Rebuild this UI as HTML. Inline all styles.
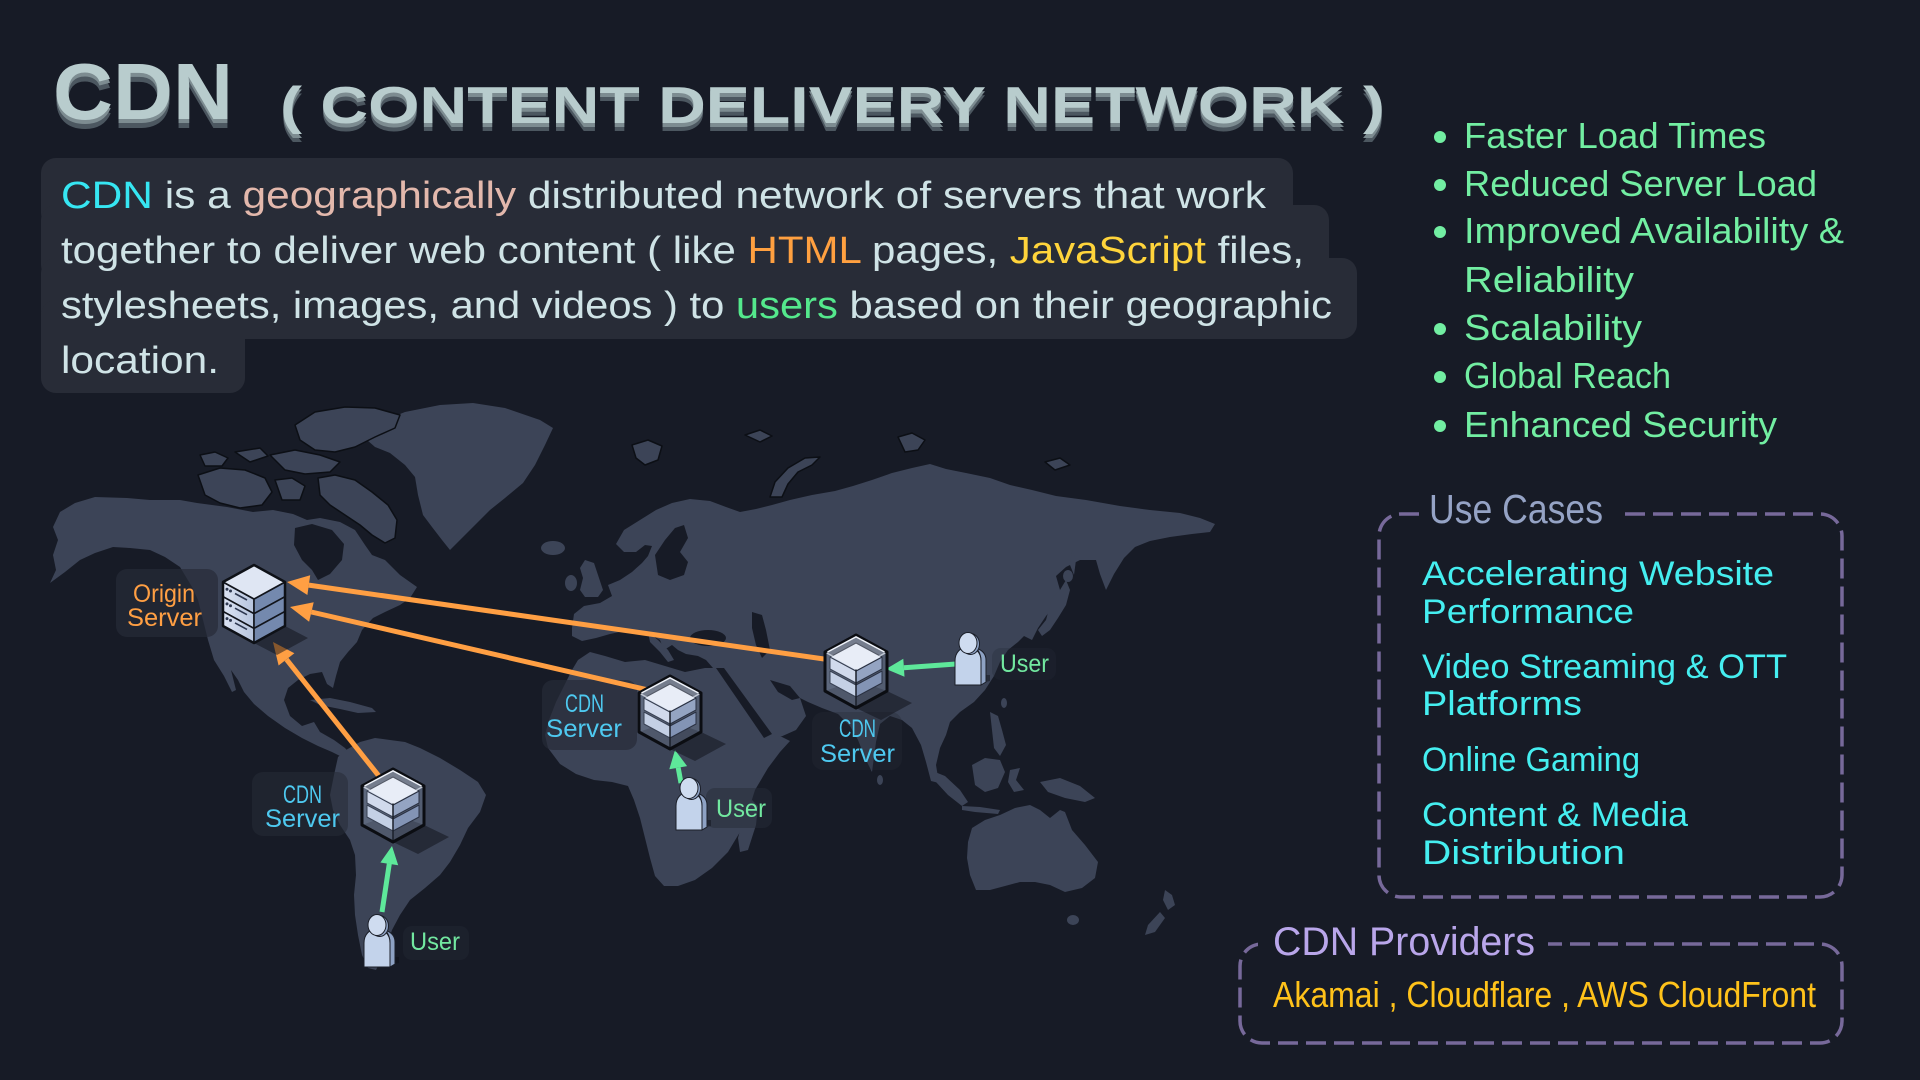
<!DOCTYPE html>
<html><head><meta charset="utf-8"><style>
html,body{margin:0;padding:0;background:#171b26;}
svg{display:block;}
text{font-family:"Liberation Sans",sans-serif;}
</style></head><body>
<svg width="1920" height="1080" viewBox="0 0 1920 1080" xmlns="http://www.w3.org/2000/svg">
<rect x="0" y="0" width="1920" height="1080" fill="#171b26"/>

<!-- TITLE -->
<g font-weight="bold">
  <text x="53" y="128" font-size="80" textLength="180" lengthAdjust="spacingAndGlyphs" fill="#4c5760">CDN</text>
  <text x="53" y="123" font-size="80" textLength="180" lengthAdjust="spacingAndGlyphs" fill="#7d8c91">CDN</text>
  <text x="53" y="119" font-size="80" textLength="180" lengthAdjust="spacingAndGlyphs" fill="#b8cccd">CDN</text>
  <text x="280" y="131" font-size="52" textLength="1105" lengthAdjust="spacingAndGlyphs" fill="#4c5760">( CONTENT DELIVERY NETWORK )</text>
  <text x="280" y="127" font-size="52" textLength="1105" lengthAdjust="spacingAndGlyphs" fill="#7d8c91">( CONTENT DELIVERY NETWORK )</text>
  <text x="280" y="123" font-size="52" textLength="1105" lengthAdjust="spacingAndGlyphs" fill="#b8cccd">( CONTENT DELIVERY NETWORK )</text>
</g>

<!-- DESCRIPTION BOX -->
<g fill="#282c37">
  <rect x="41" y="158" width="1252" height="70" rx="15"/>
  <rect x="41" y="205" width="1288" height="75" rx="15"/>
  <rect x="41" y="258" width="1316" height="81" rx="15"/>
  <rect x="41" y="300" width="204" height="93" rx="15"/>
</g>
<g font-size="38" fill="#cfe3e6">
  <text x="61" y="208" textLength="1205" lengthAdjust="spacingAndGlyphs"><tspan fill="#36e6f2">CDN</tspan> is a <tspan fill="#e3b8ac">geographically</tspan> distributed network of servers that work</text>
  <text x="61" y="263" textLength="1243" lengthAdjust="spacingAndGlyphs">together to deliver web content ( like <tspan fill="#ffa040">HTML</tspan> pages, <tspan fill="#ffd43b">JavaScript</tspan> files,</text>
  <text x="61" y="318" textLength="1271" lengthAdjust="spacingAndGlyphs">stylesheets, images, and videos ) to <tspan fill="#54e88c">users</tspan> based on their geographic</text>
  <text x="61" y="373" textLength="158" lengthAdjust="spacingAndGlyphs">location.</text>
</g>

<!-- BULLETS -->
<g fill="#72eea2">
  <circle cx="1440" cy="137" r="6"/>
  <circle cx="1440" cy="185" r="6"/>
  <circle cx="1440" cy="232" r="6"/>
  <circle cx="1440" cy="329" r="6"/>
  <circle cx="1440" cy="377" r="6"/>
  <circle cx="1440" cy="426" r="6"/>
  <g font-size="36">
    <text x="1464" y="148" textLength="302" lengthAdjust="spacingAndGlyphs">Faster Load Times</text>
    <text x="1464" y="196" textLength="353" lengthAdjust="spacingAndGlyphs">Reduced Server Load</text>
    <text x="1464" y="243" textLength="380" lengthAdjust="spacingAndGlyphs">Improved Availability &amp;</text>
    <text x="1464" y="292" textLength="170" lengthAdjust="spacingAndGlyphs">Reliability</text>
    <text x="1464" y="340" textLength="178" lengthAdjust="spacingAndGlyphs">Scalability</text>
    <text x="1464" y="388" textLength="207" lengthAdjust="spacingAndGlyphs">Global Reach</text>
    <text x="1464" y="437" textLength="313" lengthAdjust="spacingAndGlyphs">Enhanced Security</text>
  </g>
</g>

<!-- USE CASES BOX -->
<rect x="1379" y="514" width="463" height="383" rx="22" fill="none" stroke="#77699a" stroke-width="3.5" stroke-dasharray="20 8"/>
<rect x="1419" y="495" width="200" height="30" fill="#171b26"/>
<text x="1429" y="523" font-size="41" textLength="174" lengthAdjust="spacingAndGlyphs" fill="#95a3c5">Use Cases</text>
<g font-size="34" fill="#45eef0">
  <text x="1422" y="585" textLength="352" lengthAdjust="spacingAndGlyphs">Accelerating Website</text>
  <text x="1422" y="623" textLength="212" lengthAdjust="spacingAndGlyphs">Performance</text>
  <text x="1422" y="678" textLength="365" lengthAdjust="spacingAndGlyphs">Video Streaming &amp; OTT</text>
  <text x="1422" y="715" textLength="160" lengthAdjust="spacingAndGlyphs">Platforms</text>
  <text x="1422" y="771" textLength="218" lengthAdjust="spacingAndGlyphs">Online Gaming</text>
  <text x="1422" y="826" textLength="266" lengthAdjust="spacingAndGlyphs">Content &amp; Media</text>
  <text x="1422" y="864" textLength="203" lengthAdjust="spacingAndGlyphs">Distribution</text>
</g>

<!-- PROVIDERS BOX -->
<rect x="1240" y="944" width="602" height="99" rx="22" fill="none" stroke="#77699a" stroke-width="3.5" stroke-dasharray="20 8"/>
<rect x="1258" y="925" width="290" height="30" fill="#171b26"/>
<text x="1273" y="955" font-size="40" textLength="262" lengthAdjust="spacingAndGlyphs" fill="#b9a6ea">CDN Providers</text>
<text x="1273" y="1007" font-size="36" textLength="543" lengthAdjust="spacingAndGlyphs" fill="#ffc21a">Akamai , Cloudflare , AWS CloudFront</text>

<!-- MAP -->
<g fill="#3c4457">
  <path d="M50,583 L56,570 L53,555 L58,540 L53,527 L60,512 L75,503 L95,497 L127,498 L150,500 L180,500 L197,503 L227,507 L253,512 L273,510 L293,514 L307,520 L320,518 L340,522 L355,530 L365,545 L372,555 L385,560 L400,575 L417,587 L410,598 L400,605 L385,612 L373,618 L362,630 L357,642 L348,652 L340,662 L336,676 L333,688 L327,684 L322,672 L310,674 L298,680 L288,688 L284,700 L290,716 L302,726 L314,722 L320,732 L334,740 L345,748 L352,756 L344,758 L332,752 L318,746 L302,738 L285,728 L268,716 L254,704 L244,692 L238,680 L231,670 L236,690 L232,692 L224,676 L214,660 L208,640 L203,620 L198,600 L192,587 L180,567 L165,557 L150,550 L130,548 L113,547 L95,553 L80,560 L65,572 Z"/>
  <path d="M310,700 L330,698 L350,702 L372,708 L376,712 L358,713 L340,709 L320,705 Z"/>
  <path d="M338,757 L346,750 L360,742 L375,738 L390,740 L405,742 L420,748 L440,758 L460,770 L478,782 L486,795 L480,812 L468,828 L460,845 L450,862 L440,875 L425,888 L410,900 L400,915 L392,930 L386,948 L380,962 L376,970 L368,968 L362,955 L358,935 L355,915 L354,895 L356,875 L355,855 L350,840 L340,825 L333,810 L330,795 L334,775 Z"/>
  <path d="M367,440 L385,420 L405,412 L440,405 L473,403 L505,408 L540,420 L553,428 L545,445 L535,465 L523,483 L505,498 L490,510 L475,525 L460,540 L450,550 L442,540 L432,527 L423,515 L418,495 L415,477 L405,465 L390,453 L375,447 Z"/>
  <ellipse cx="553" cy="548" rx="12" ry="7"/>
  <path d="M572,628 L574,614 L584,606 L600,603 L612,596 L608,585 L620,580 L632,572 L642,563 L648,556 L652,546 L645,545 L636,552 L624,552 L616,544 L624,530 L640,520 L656,510 L672,503 L690,499 L710,501 L726,507 L740,512 L756,509 L772,505 L790,500 L812,495 L835,491 L853,486 L872,480 L892,473 L912,468 L930,464 L946,469 L966,473 L990,478 L1010,485 L1032,490 L1056,496 L1086,500 L1120,506 L1150,510 L1180,513 L1200,518 L1215,524 L1210,532 L1192,534 L1170,537 L1150,541 L1135,547 L1124,558 L1114,574 L1106,590 L1100,574 L1096,560 L1080,560 L1066,567 L1056,576 L1060,590 L1056,604 L1046,616 L1038,628 L1032,640 L1024,636 L1018,642 L1008,650 L1000,662 L994,676 L985,690 L974,702 L960,712 L950,722 L946,735 L940,748 L936,765 L939,783 L931,781 L926,762 L921,745 L912,728 L902,720 L890,716 L880,724 L876,742 L872,772 L866,760 L858,740 L850,726 L838,714 L822,708 L808,702 L800,698 L806,716 L796,730 L778,738 L762,742 L748,728 L736,710 L725,692 L718,678 L713,668 L706,660 L698,656 L686,654 L678,650 L672,645 L664,650 L660,640 L650,634 L638,630 L624,631 L610,634 L596,638 L582,641 L572,636 Z"/>
  <path d="M648,632 L658,640 L668,650 L674,660 L668,662 L660,652 L650,642 Z"/>
  <path d="M578,660 L590,652 L605,656 L625,662 L645,660 L665,666 L685,672 L705,668 L720,668 L730,680 L742,698 L755,716 L768,735 L782,737 L790,741 L780,752 L768,768 L755,790 L748,812 L740,832 L728,852 L712,868 L695,880 L678,886 L664,886 L655,876 L650,858 L645,838 L640,818 L634,800 L628,786 L612,782 L594,780 L576,774 L560,764 L548,748 L545,735 L549,720 L556,702 L565,684 L572,670 Z"/>
  <path d="M752,800 L758,806 L756,825 L748,850 L740,852 L738,838 L744,815 Z"/>
  <path d="M585,560 L594,563 L598,575 L603,590 L598,597 L585,597 L580,590 L583,578 L580,568 Z"/>
  <ellipse cx="571" cy="583" rx="6" ry="8"/>
  <path d="M1052,598 L1060,590 L1066,580 L1070,590 L1066,605 L1058,618 L1050,630 L1042,636 L1038,630 L1046,620 Z"/>
  <ellipse cx="1068" cy="576" rx="5" ry="6"/>
  <path d="M1072,550 L1076,560 L1074,575 L1070,565 Z"/>
  <ellipse cx="1004" cy="703" rx="3" ry="5"/>
  <ellipse cx="880" cy="780" rx="3" ry="5"/>
  <path d="M990,712 L998,716 L1002,730 L1006,745 L1000,756 L994,748 L992,730 Z"/>
  <path d="M972,765 L985,758 L1000,760 L1005,772 L998,788 L985,792 L975,785 Z"/>
  <path d="M930,770 L945,776 L960,790 L968,802 L962,806 L948,795 L936,782 Z"/>
  <path d="M962,806 L980,807 L1000,810 L998,814 L975,812 L962,810 Z"/>
  <path d="M1010,770 L1020,768 L1016,780 L1024,790 L1014,792 L1008,782 Z"/>
  <path d="M1040,782 L1060,778 L1080,786 L1095,798 L1085,802 L1065,798 L1048,792 Z"/>
  <path d="M968,842 L972,828 L985,820 L1000,815 L1015,808 L1030,805 L1040,810 L1050,818 L1060,810 L1065,812 L1072,830 L1085,845 L1098,862 L1095,878 L1082,888 L1065,892 L1050,885 L1035,882 L1020,882 L1005,886 L990,890 L976,890 L970,875 L967,858 Z"/>
  <ellipse cx="1073" cy="920" rx="6" ry="5"/>
  <path d="M1165,890 L1172,895 L1175,905 L1168,910 L1163,900 Z"/>
  <path d="M1160,912 L1165,918 L1155,932 L1145,935 L1148,925 Z"/>
</g>
<g fill="#3c4457" stroke="#0c0f15" stroke-width="1.5" stroke-linejoin="round">
  <path d="M318,478 L335,475 L355,480 L372,492 L388,505 L397,520 L395,538 L385,543 L372,535 L360,525 L345,515 L330,505 L320,495 Z"/>
  <path d="M295,425 L315,412 L345,407 L375,408 L400,415 L395,428 L375,437 L355,447 L335,452 L315,450 L300,440 Z"/>
  <path d="M270,455 L295,450 L320,455 L340,462 L330,472 L305,474 L285,470 Z"/>
  <path d="M198,475 L220,468 L245,470 L265,478 L272,492 L262,505 L240,508 L220,503 L205,495 Z"/>
  <path d="M200,455 L215,452 L228,458 L222,466 L205,466 Z"/>
  <path d="M275,480 L292,478 L305,486 L300,500 L282,500 Z"/>
  <path d="M235,452 L260,448 L268,456 L250,462 Z"/>
  <path d="M632,445 L648,440 L662,446 L658,460 L645,465 L636,458 Z"/>
  <path d="M745,435 L760,430 L772,436 L760,442 Z"/>
  <path d="M770,497 L775,482 L788,468 L805,458 L820,457 L812,465 L798,472 L788,484 L782,497 Z"/>
  <path d="M898,437 L912,433 L925,440 L918,450 L905,452 Z"/>
  <path d="M1045,462 L1060,458 L1070,465 L1055,470 Z"/>
</g>
<g fill="#171b26">
  <path d="M295,528 L312,524 L332,530 L344,544 L342,560 L330,574 L318,580 L312,570 L302,560 L294,545 Z"/>
  <path d="M716,668 L724,668 L772,734 L764,738 Z"/>
  <path d="M770,680 L790,686 L800,698 L792,700 L778,692 Z"/>
  <ellipse cx="708" cy="638" rx="18" ry="8"/>
  <path d="M752,612 L762,615 L766,630 L770,650 L762,658 L756,645 L752,628 Z"/>
  <path d="M655,555 L665,540 L675,528 L684,525 L688,538 L680,552 L688,562 L684,575 L670,580 L658,575 Z"/>
</g>

<!-- label backgrounds -->
<g fill="#262b37">
  <rect x="116" y="569" width="102" height="68" rx="11" opacity="0.7"/>
  <rect x="252" y="772" width="96" height="64" rx="11" opacity="0.55"/>
  <rect x="542" y="680" width="95" height="70" rx="11" opacity="0.7"/>
  <rect x="812" y="712" width="90" height="58" rx="11" opacity="0.35"/>
  <rect x="403" y="926" width="66" height="34" rx="9" opacity="0.4"/>
  <rect x="706" y="788" width="66" height="40" rx="9" opacity="0.5"/>
  <rect x="992" y="648" width="64" height="32" rx="9" opacity="0.3"/>
</g>

<!-- orange arrows -->
<g stroke="#ff9f43" stroke-width="5" fill="none">
  <line x1="845" y1="662" x2="308.8" y2="585.1"/>
  <line x1="670" y1="695" x2="311.4" y2="612"/>
  <line x1="386" y1="785" x2="286.5" y2="659.4"/>
</g>
<g fill="#ff9f43">
  <polygon points="287,582 310.2,575.2 307.4,595"/>
  <polygon points="290,607 313.7,602.3 309.1,621.7"/>
  <polygon points="273,642 294.4,653.3 278.6,665.5"/>
</g>
<g stroke="#5ee89a" stroke-width="5" fill="none">
  <line x1="382" y1="912" x2="389.3" y2="863.8"/>
  <line x1="681" y1="783" x2="678.2" y2="767.7"/>
  <line x1="956" y1="664" x2="903.9" y2="667.7"/>
</g>
<g fill="#5ee89a">
  <polygon points="392,846 398.2,865.2 380.4,862.5"/>
  <polygon points="675,750 687.1,766.1 669.3,769.3"/>
  <polygon points="886,669 903.3,658.7 904.5,676.7"/>
</g>

<defs>
  <g id="cube">
    <polygon points="0,73 31,56 56,68 25,85" fill="#0d1017" opacity="0.5"/>
    <polygon points="0,0 31,17 31,56 0,73 -31,56 -31,17" fill="#535d71"/>
    <polygon points="-31,56 0,73 31,56 0,45" fill="#434b5d"/>
    <g stroke="#2a3142" stroke-width="1" stroke-linejoin="round">
      <polygon points="-26,36 0,50 0,62 -26,48" fill="#c8d3e8"/>
      <polygon points="0,50 26,36 26,48 0,62" fill="#8394b5"/>
      <polygon points="-26,22 0,36 0,48 -26,34" fill="#d6dff0"/>
      <polygon points="0,36 26,22 26,34 0,48" fill="#94a4c2"/>
      <polygon points="0,8 26,22 0,36 -26,22" fill="#e3e9f5"/>
    </g>
    <polygon points="0,0 31,17 0,34 -31,17" fill="#ffffff" opacity="0.2"/>
    <polygon points="-31,17 0,34 0,73 -31,56" fill="#b0bdd6" opacity="0.12"/>
    <line x1="0" y1="34" x2="0" y2="73" stroke="#1a1f2a" stroke-width="1.5"/>
    <polyline points="-31,17 0,34 31,17" fill="none" stroke="#e8eef8" stroke-width="1.5" opacity="0.7"/>
    <polygon points="0,0 31,17 31,56 0,73 -31,56 -31,17" fill="none" stroke="#0b0d12" stroke-width="3" stroke-linejoin="round"/>
    <polyline points="-28.5,17 0,1.8 28.5,17" fill="none" stroke="#f0f4fb" stroke-width="1.5"/>
  </g>
  <g id="user">
    <path d="M4,40 L22,36 L22,30 L8,30 Z" fill="#0d1017" opacity="0.45"/>
    <path d="M8,3 C14,5 18,9 18,15 L18,37 L13,40 L13,16 C13,10 11,6 8,3 Z" fill="#8ea2c4" stroke="#1b1f29" stroke-width="1"/>
    <path d="M-13,40 L-13,16 C-13,7 -7,2 0,2 C7,2 13,7 13,16 L13,40 Z" fill="#c3d3eb" stroke="#1b1f29" stroke-width="1"/>
    <ellipse cx="2.5" cy="-1" rx="9" ry="10.5" fill="#8ea2c4" stroke="#1b1f29" stroke-width="1"/>
    <ellipse cx="0" cy="-2" rx="9" ry="10.5" fill="#cfdcf0" stroke="#1b1f29" stroke-width="1"/>
  </g>
  <linearGradient id="lf" x1="0" y1="0" x2="1" y2="0">
    <stop offset="0" stop-color="#dbe3f3"/><stop offset="1" stop-color="#b7c5de"/>
  </linearGradient>
</defs>

<g transform="translate(254,565)">
  <polygon points="0,78 31,61 54,73 23,90" fill="#0d1017" opacity="0.5"/>
  <g stroke="#12151c" stroke-width="1.6" stroke-linejoin="round">
    <polygon points="-31,17 0,34 0,48.7 -31,31.7" fill="url(#lf)"/>
    <polygon points="0,34 31,17 31,31.7 0,48.7" fill="#7489ae"/>
    <polygon points="-31,31.7 0,48.7 0,63.4 -31,46.4" fill="url(#lf)"/>
    <polygon points="0,48.7 31,31.7 31,46.4 0,63.4" fill="#7489ae"/>
    <polygon points="-31,46.4 0,63.4 0,78 -31,61" fill="url(#lf)"/>
    <polygon points="0,63.4 31,46.4 31,61 0,78" fill="#7489ae"/>
    <polygon points="0,0 31,17 0,34 -31,17" fill="#dfe6f3"/>
  </g>
  <g fill="#2e3850">
    <circle cx="-27" cy="24.2" r="1.5"/><circle cx="-23.5" cy="26" r="1.5"/>
    <circle cx="-27" cy="38.9" r="1.5"/><circle cx="-23.5" cy="40.7" r="1.5"/>
    <circle cx="-27" cy="53.6" r="1.5"/><circle cx="-23.5" cy="55.4" r="1.5"/>
  </g>
  <g stroke="#2e3850" stroke-width="1.6">
    <line x1="-19" y1="28.5" x2="-7" y2="35"/>
    <line x1="-19" y1="43.2" x2="-7" y2="49.7"/>
    <line x1="-19" y1="57.9" x2="-7" y2="64.4"/>
  </g>
  <polygon points="0,0 31,17 31,61 0,78 -31,61 -31,17" fill="none" stroke="#0e1117" stroke-width="2.5" stroke-linejoin="round"/>
</g>

<use href="#cube" transform="translate(393,769)"/>
<use href="#cube" transform="translate(670,676)"/>
<use href="#cube" transform="translate(856,635)"/>

<use href="#user" transform="translate(377,927)"/>
<use href="#user" transform="translate(689,790)"/>
<use href="#user" transform="translate(968,645)"/>

<g font-size="25">
  <g fill="#ff9f43">
    <text x="133" y="602" textLength="62" lengthAdjust="spacingAndGlyphs">Origin</text>
    <text x="127" y="626" textLength="75" lengthAdjust="spacingAndGlyphs">Server</text>
  </g>
  <g fill="#4ec9f0">
    <text x="283" y="803" textLength="39" lengthAdjust="spacingAndGlyphs">CDN</text>
    <text x="265" y="827" textLength="75" lengthAdjust="spacingAndGlyphs">Server</text>
    <text x="565" y="712" textLength="39" lengthAdjust="spacingAndGlyphs">CDN</text>
    <text x="546" y="737" textLength="76" lengthAdjust="spacingAndGlyphs">Server</text>
    <text x="839" y="737" textLength="37" lengthAdjust="spacingAndGlyphs">CDN</text>
    <text x="820" y="762" textLength="75" lengthAdjust="spacingAndGlyphs">Server</text>
  </g>
  <g fill="#72e8a0">
    <text x="410" y="950" textLength="50" lengthAdjust="spacingAndGlyphs">User</text>
    <text x="716" y="817" textLength="50" lengthAdjust="spacingAndGlyphs">User</text>
    <text x="1000" y="672" textLength="49" lengthAdjust="spacingAndGlyphs">User</text>
  </g>
</g>
</svg>
</body></html>
